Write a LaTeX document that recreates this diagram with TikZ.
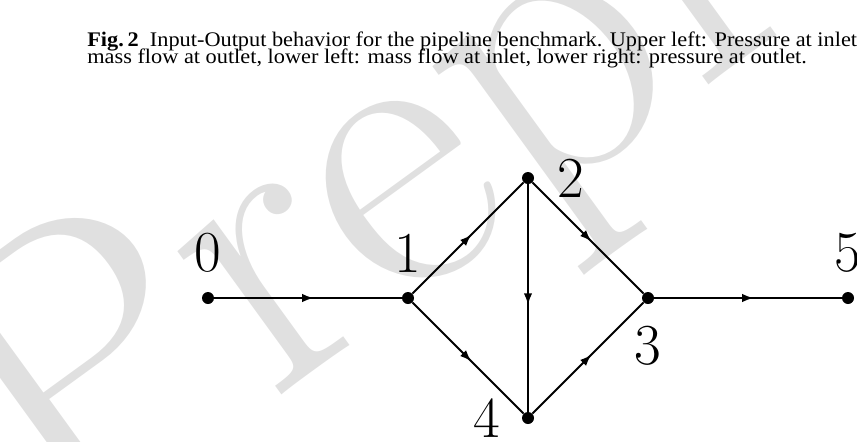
\documentclass[tikz,border=0pt]{standalone}
\usepackage{fontspec}
\newfontfamily\capfont{Liberation Serif}
\usepackage{tikz}
\usetikzlibrary{arrows.meta,decorations.markings,positioning}

\begin{document}
\begin{tikzpicture}[
  x=0.8cm,y=0.8cm,
  vertex/.style={circle,fill=black,inner sep=0pt,minimum size=0.24cm},
  num/.style={font=\fontsize{33}{40}\selectfont,inner sep=0pt},
  flow/.style={
    line width=1.1pt,postaction={decorate},
    decoration={markings,mark=at position 0.53 with {\arrow{Latex[length=0.23cm,width=0.17cm]}}}
  },
  captext/.style={anchor=base west,inner sep=0pt,yscale=0.93,transform shape,
    font=\capfont\fontsize{12.7}{15}\selectfont},
  wmark/.style={anchor=base west,inner sep=0pt,text=black!12,font=\fontsize{236}{280}\selectfont}
]
  \useasboundingbox (-5.2,-3.575) rectangle (16.225,7.45);
  \clip (-5.2,-3.575) rectangle (16.225,7.45);
  \node[wmark,rotate=36] (wm) at (-3.675,-6.45) {Preprint};
  \node[captext] (cap1) at (-3.025,6.3)
    {\textbf{Fig.\,2}\enspace Input-Output behavior for the pipeline benchmark. Upper left: Pressure at inlet};
  \node[captext] (cap2) at ([yshift=-0.34cm]cap1.base west)
    {mass flow at outlet, lower left: mass flow at inlet, lower right: pressure at outlet.};
  \node[vertex,label={[num,label distance=0.38cm]above:0}] (n0) at (0,0) {};
  \node[vertex,label={[num,label distance=0.38cm]above:1}] (n1) at (5,0) {};
  \node[vertex,label={[num,label distance=0.46cm]right:2}] (n2) at (8,3) {};
  \node[vertex,label={[num,label distance=0.42cm]below:3}] (n3) at (11,0) {};
  \node[vertex,label={[num,label distance=0.42cm]left:4}] (n4) at (8,-3) {};
  \node[vertex,label={[num,label distance=0.38cm]above:5}] (n5) at (16,0) {};
  \draw[flow] (n0) -- (n1);
  \draw[flow] (n1) -- (n2);
  \draw[flow] (n1) -- (n4);
  \draw[flow] (n2) -- (n3);
  \draw[flow] (n2) -- (n4);
  \draw[flow] (n4) -- (n3);
  \draw[flow] (n3) -- (n5);
\end{tikzpicture}
\end{document}
